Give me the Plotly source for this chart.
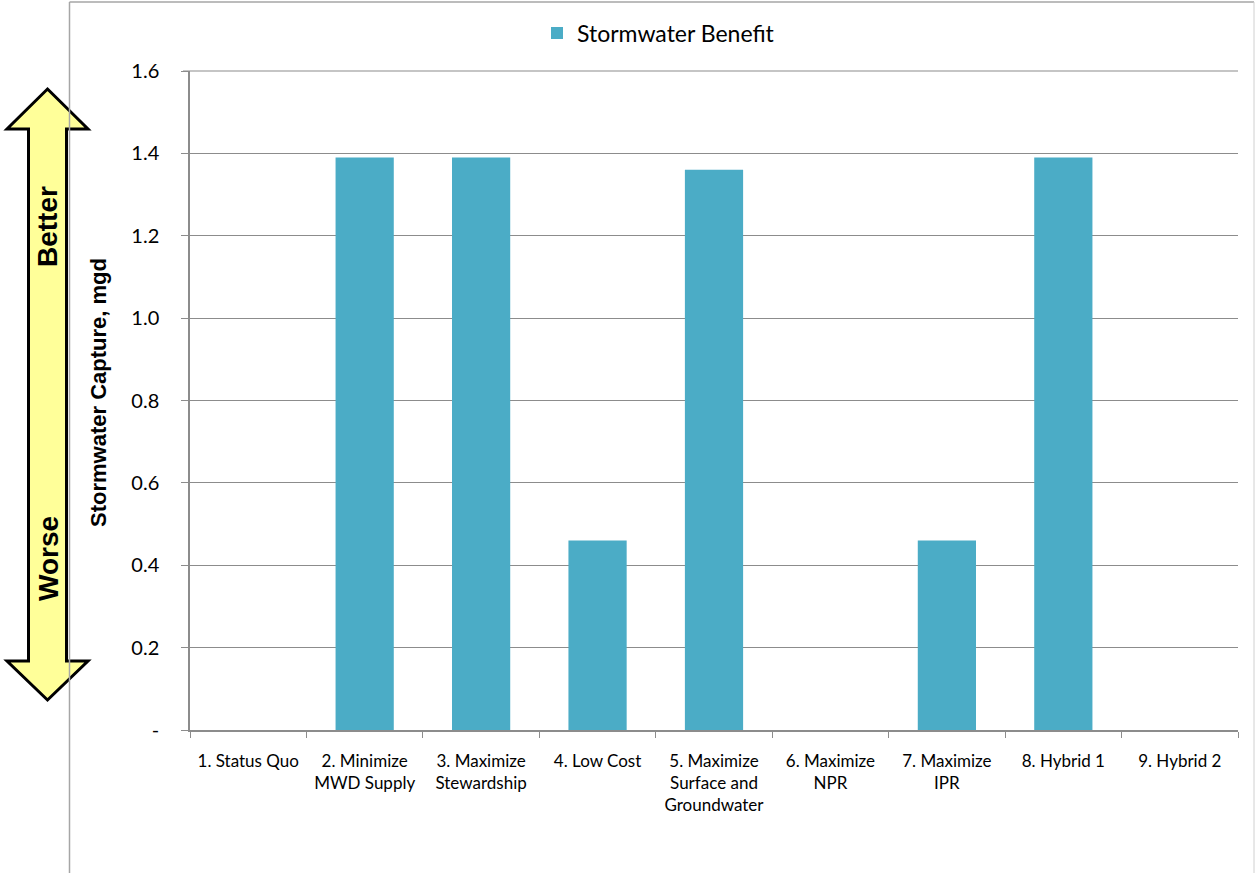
import plotly.graph_objects as go

# Scenario names (category axis) and stormwater capture values, mgd
scenarios = [
    "1. Status Quo",
    "2. Minimize<br>MWD Supply",
    "3. Maximize<br>Stewardship",
    "4. Low Cost",
    "5. Maximize<br>Surface and<br>Groundwater",
    "6. Maximize<br>NPR",
    "7. Maximize<br>IPR",
    "8. Hybrid 1",
    "9. Hybrid 2",
]
stormwater_benefit = [0, 1.39, 1.39, 0.46, 1.36, 0, 0.46, 1.39, 0]

y_tick_values = [0, 0.2, 0.4, 0.6, 0.8, 1.0, 1.2, 1.4, 1.6]
y_tick_labels = ["-", "0.2", "0.4", "0.6", "0.8", "1.0", "1.2", "1.4", "1.6"]
y_max = 1.6

W, H = 1255, 873
M_L, M_R, M_T, M_B = 190, 17, 71, 143
PW, PH = W - M_L - M_R, H - M_T - M_B


def px(x):
    """Pixel x -> paper x."""
    return (x - M_L) / PW


def py(y):
    """Pixel y (from top) -> paper y."""
    return (H - M_B - y) / PH


BAR = "#4BACC6"
GRID = "#8C8C8C"
TEXT_FONT = "Lato"
BOLD_FONT = "Liberation Sans, Arial"

fig = go.Figure(
    go.Bar(
        x=scenarios,
        y=stormwater_benefit,
        name="Stormwater Benefit",
        marker=dict(color=BAR, line=dict(width=0)),
        width=0.5,
    )
)

# Double-headed "Better / Worse" arrow beside the value axis
pts = [
    (47.5, 89), (88, 129), (66.5, 129), (66.5, 661), (88, 661),
    (47.5, 700), (7, 661), (28.5, 661), (28.5, 129), (7, 129),
]
path = "M " + " L ".join(f"{px(a):.5f},{py(b):.5f}" for a, b in pts) + " Z"

shapes = [
    # top gridline: the range ends at y_max, i.e. the top edge of the plot area
    dict(type="line", xref="paper", yref="paper", x0=px(183), x1=1,
         y0=1, y1=1, line=dict(color=GRID, width=1.2), layer="above"),
    dict(type="path", path=path, xref="paper", yref="paper",
         fillcolor="#FFFF99", line=dict(color="black", width=3), layer="above"),
    # chart frame
    dict(type="line", xref="paper", yref="paper", x0=px(69.5), x1=px(69.5),
         y0=py(2), y1=py(873), line=dict(color="#A6A6A6", width=1.5)),
    dict(type="line", xref="paper", yref="paper", x0=px(69.5), x1=px(1254),
         y0=py(2), y1=py(2), line=dict(color="#A6A6A6", width=1.5)),
    dict(type="line", xref="paper", yref="paper", x0=px(1254), x1=px(1254),
         y0=py(2), y1=py(873), line=dict(color="#D0D0D0", width=1)),
]

annotations = [
    dict(text="<b>Better</b>", x=px(48), y=py(227), xref="paper", yref="paper",
         xanchor="center", yanchor="middle", textangle=-90, showarrow=False,
         font=dict(family=BOLD_FONT, size=28, color="black")),
    dict(text="<b>Worse</b>", x=px(48), y=py(559), xref="paper", yref="paper",
         xanchor="center", yanchor="middle", textangle=-90, showarrow=False,
         font=dict(family=BOLD_FONT, size=28, color="black")),
    dict(text="<b>Stormwater Capture, mgd</b>", x=px(98), y=py(393),
         xref="paper", yref="paper", xanchor="center", yanchor="middle",
         textangle=-90, showarrow=False,
         font=dict(family=BOLD_FONT, size=22, color="black")),
]

fig.update_layout(
    width=W,
    height=H,
    margin=dict(l=M_L, r=M_R, t=M_T, b=M_B, pad=0),
    paper_bgcolor="white",
    plot_bgcolor="white",
    font=dict(family=TEXT_FONT, color="black"),
    bargap=0.5,
    showlegend=True,
    legend=dict(
        orientation="h",
        x=px(537), y=py(33), xanchor="left", yanchor="middle",
        font=dict(family=TEXT_FONT, size=23, color="black"),
        itemwidth=30, bgcolor="rgba(0,0,0,0)",
    ),
    shapes=shapes,
    annotations=annotations,
)

fig.update_xaxes(
    showline=True, linecolor=GRID, linewidth=1.5,
    ticks="outside", tickson="boundaries", ticklen=6, tickcolor=GRID,
    showgrid=False, tickangle=0,
    tickfont=dict(family=TEXT_FONT, size=17, color="black"),
    ticklabelstandoff=15,
)
fig.update_yaxes(
    range=[0, y_max], tickvals=y_tick_values, ticktext=y_tick_labels,
    showline=True, linecolor=GRID, linewidth=1.5,
    ticks="outside", ticklen=7, tickcolor=GRID,
    showgrid=True, gridcolor=GRID, gridwidth=1, zeroline=False,
    tickfont=dict(family=TEXT_FONT, size=20, color="black"),
    ticklabelstandoff=18,
)

fig.write_html("out.html")
